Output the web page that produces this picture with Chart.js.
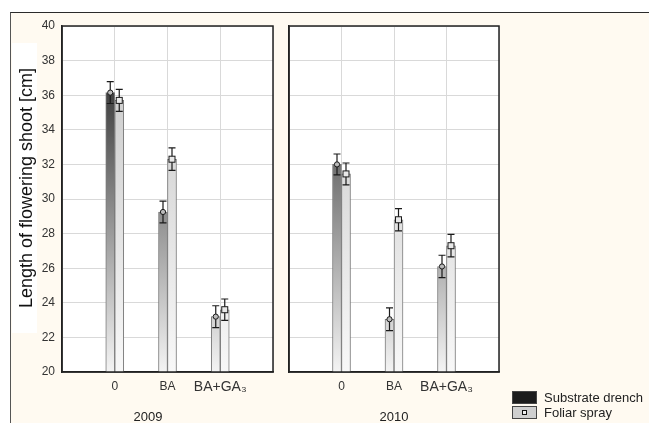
<!DOCTYPE html>
<html>
<head>
<meta charset="utf-8">
<script src="https://cdn.jsdelivr.net/npm/chart.js@4.4.0/dist/chart.umd.min.js"></script>
<style>
  html, body { margin: 0; padding: 0; background: #fff; }
  body { width: 649px; height: 423px; position: relative; overflow: hidden; }
  #frame { position: absolute; left: 10px; top: 12px; right: 0; bottom: 0; background: #fffaf1;
           border-top: 1px solid #2b2b2b; border-left: 1px solid #555; }
  #c2009 { position: absolute; left: 0; top: 0; }
  #c2010 { position: absolute; left: 280px; top: 0; }
</style>
</head>
<body>
<div id="frame"></div>
<canvas id="c2009" width="280" height="423"></canvas>
<canvas id="c2010" width="369" height="423"></canvas>
<script>
// treatments on the x axis
const categories = ['0', 'BA', 'BA+GA₃'];
const seriesNames = ['Substrate drench', 'Foliar spray'];
const yTicks = [20, 22, 24, 26, 28, 30, 32, 34, 36, 38, 40];

// means
const drench2009 = [36.15, 29.25, 23.2];
const spray2009 = [35.7, 32.3, 23.6];
const drench2010 = [32.0, 23.05, 26.1];
const spray2010 = [31.45, 28.8, 27.3];

// +/- error bars
const drenchErr2009 = [0.63, 0.63, 0.63];
const sprayErr2009 = [0.64, 0.65, 0.62];
const drenchErr2010 = [0.6, 0.66, 0.65];
const sprayErr2010 = [0.63, 0.64, 0.65];

const FONT = '"Liberation Sans", Arial, "DejaVu Sans", sans-serif';

// pad with empty slots so the groups sit at 1/4, 2/4, 3/4 of the panel
const labels = ['', ...categories, ''];
const pad = arr => [null, ...arr, null];

// vertical shading tied to the plot area, like the original
function shade(top, bottom) {
    return ctx => {
        const chart = ctx.chart;
        const a = chart.chartArea;
        if (!a) return top;
        const g = chart.ctx.createLinearGradient(0, a.top, 0, a.bottom);
        g.addColorStop(0, top);
        g.addColorStop(1, bottom);
        return g;
    };
}

const panelPlugin = {
    id: 'panel',
    beforeDraw(chart) {
        const {ctx, chartArea: a} = chart;
        ctx.save();
        ctx.fillStyle = '#fff';
        ctx.fillRect(a.left, a.top, a.right - a.left, a.bottom - a.top);
        ctx.restore();
    },
    afterDatasetsDraw(chart, args, opts) {
        const ctx = chart.ctx;
        const yScale = chart.scales.y;
        ctx.save();
        chart.data.datasets.forEach((ds, i) => {
            const meta = chart.getDatasetMeta(i);
            meta.data.forEach((bar, j) => {
                const v = ds.data[j];
                if (v == null) return;
                const e = opts.errors[i][j - 1];
                const x = bar.x;
                const yt = yScale.getPixelForValue(v + e);
                const yb = yScale.getPixelForValue(v - e);
                ctx.strokeStyle = '#1a1a1a';
                ctx.lineWidth = 1.2;
                ctx.beginPath();
                ctx.moveTo(x, yt); ctx.lineTo(x, yb);
                ctx.moveTo(x - 3.5, yt); ctx.lineTo(x + 3.5, yt);
                ctx.moveTo(x - 3.5, yb); ctx.lineTo(x + 3.5, yb);
                ctx.stroke();
                // marker
                const ym = yScale.getPixelForValue(v);
                ctx.lineWidth = 1;
                if (i === 0) {
                    ctx.beginPath();
                    ctx.arc(x, ym, 2.6, 0, Math.PI * 2);
                    ctx.fillStyle = '#bbb';
                    ctx.fill();
                    ctx.stroke();
                } else {
                    ctx.fillStyle = '#e8e8e8';
                    ctx.fillRect(x - 3, ym - 3, 6, 6);
                    ctx.strokeRect(x - 3, ym - 3, 6, 6);
                }
            });
        });
        ctx.restore();
    },
    afterDraw(chart, args, opts) {
        const {ctx, chartArea: a} = chart;
        ctx.save();
        // plot box
        ctx.strokeStyle = '#222';
        ctx.lineWidth = 1.5;
        ctx.strokeRect(a.left, a.top, a.right - a.left, a.bottom - a.top);
        // year under the panel
        ctx.fillStyle = '#222';
        ctx.font = '13px ' + FONT;
        ctx.textAlign = 'center';
        ctx.textBaseline = 'middle';
        ctx.fillText(opts.year, opts.yearX, 417);
        if (opts.yTitle) {
            ctx.fillStyle = '#fff';
            ctx.fillRect(12, 43, 25, 290);
            ctx.translate(27, 188);
            ctx.rotate(-Math.PI / 2);
            ctx.fillStyle = '#111';
            ctx.font = '18px ' + FONT;
            ctx.fillText(opts.yTitle, 0, 0);
            ctx.setTransform(1, 0, 0, 1, 0, 0);
        }
        if (opts.legend) {
            const items = chart.data.datasets;
            items.forEach((ds, i) => {
                const y = 391 + i * 15;
                ctx.fillStyle = i === 0 ? '#1c1c1c' : '#cfcfcf';
                ctx.fillRect(232, y, 25, 13);
                ctx.strokeStyle = '#444';
                ctx.lineWidth = 1;
                ctx.strokeRect(232.5, y + 0.5, 24, 12);
                if (i === 1) {
                    ctx.fillStyle = '#eee';
                    ctx.fillRect(242, y + 4, 5, 5);
                    ctx.strokeStyle = '#111';
                    ctx.strokeRect(242.5, y + 4.5, 4, 4);
                }
                ctx.fillStyle = '#222';
                ctx.font = '13px ' + FONT;
                ctx.textAlign = 'left';
                ctx.textBaseline = 'middle';
                ctx.fillText(ds.label, 264, y + 7);
            });
        }
        ctx.restore();
    }
};

function makePanel(id, drench, spray, errs, opts) {
    return new Chart(document.getElementById(id), {
        type: 'bar',
        data: {
            labels: labels,
            datasets: [{
                label: seriesNames[0],
                data: pad(drench),
                backgroundColor: shade('#161616', '#f4f4f4'),
                borderColor: '#7a7a7a',
                borderWidth: 1
            }, {
                label: seriesNames[1],
                data: pad(spray),
                backgroundColor: shade('#c4c4c4', '#f8f8f8'),
                borderColor: '#7a7a7a',
                borderWidth: 1
            }]
        },
        options: {
            responsive: false,
            animation: false,
            barThickness: 9,
            layout: {padding: opts.padding},
            scales: {
                x: {
                    offset: false,
                    grid: {offset: false, color: '#d9d9d9', drawTicks: false},
                    border: {color: '#222', width: 1.5},
                    ticks: {
                        color: '#333',
                        padding: 7,
                        maxRotation: 0,
                        autoSkip: false,
                        font: c => ({family: FONT, size: c.index === 3 ? 14 : 12})
                    },
                    afterFit: s => { s.height = 51; }
                },
                y: {
                    min: 20,
                    max: 40,
                    afterBuildTicks: s => { s.ticks = yTicks.map(v => ({value: v})); },
                    grid: {color: '#d9d9d9', drawTicks: false},
                    border: {color: '#222', width: 1.5},
                    ticks: {
                        display: opts.showY,
                        color: '#333',
                        padding: 7,
                        font: {family: FONT, size: 12}
                    },
                    afterFit: s => { s.width = opts.yWidth; }
                }
            },
            plugins: {
                legend: {display: false},
                tooltip: {enabled: false},
                panel: {
                    errors: errs,
                    year: opts.year,
                    yearX: opts.yearX,
                    yTitle: opts.yTitle,
                    legend: opts.legend
                }
            }
        },
        plugins: [panelPlugin]
    });
}

makePanel('c2009', drench2009, spray2009, [drenchErr2009, sprayErr2009], {
    padding: {left: 0, top: 26, right: 7, bottom: 0},
    yWidth: 62,
    showY: true,
    year: '2009',
    yearX: 148,
    yTitle: 'Length of flowering shoot [cm]',
    legend: false
});

makePanel('c2010', drench2010, spray2010, [drenchErr2010, sprayErr2010], {
    padding: {left: 9, top: 26, right: 150, bottom: 0},
    yWidth: 0,
    showY: false,
    year: '2010',
    yearX: 114,
    yTitle: null,
    legend: true
});
</script>
</body>
</html>
